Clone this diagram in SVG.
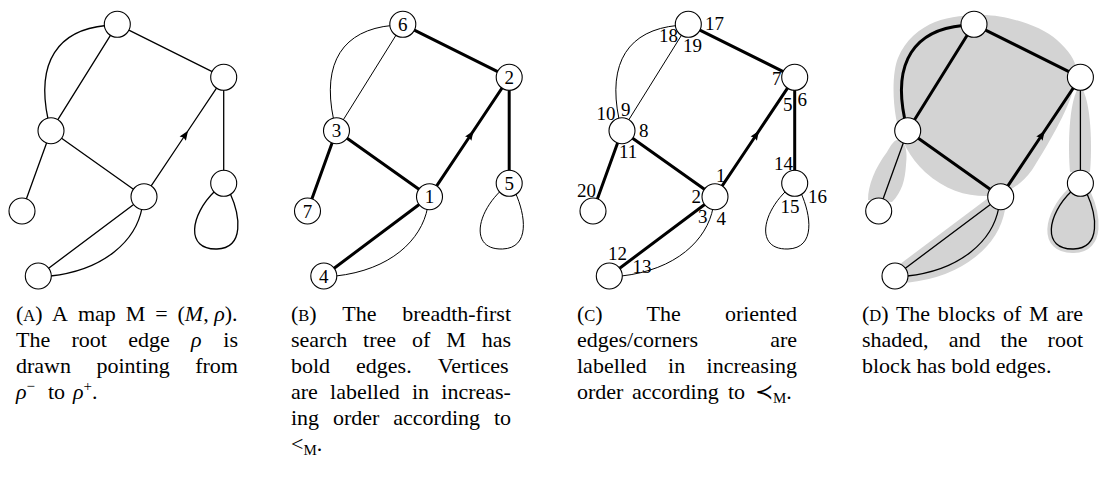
<svg xmlns="http://www.w3.org/2000/svg" width="1114" height="479" viewBox="0 0 1114 479">
<style>
.e{fill:none;stroke:#000;stroke-width:1.3;stroke-linecap:round}
.t{fill:none;stroke:#000;stroke-width:1;stroke-linecap:round}
.b{fill:none;stroke:#000;stroke-width:3;stroke-linecap:round}
.n circle{fill:#fff;stroke:#000;stroke-width:1.1}
.lbl{font-family:"Liberation Serif","DejaVu Serif",serif;font-size:19px;fill:#000}
.nl{font-family:"Liberation Serif","DejaVu Serif",serif;font-size:19px;fill:#000;text-anchor:middle}
.cap{font-family:"Liberation Serif","DejaVu Serif",serif;font-size:22px;fill:#000}
.sc{font-size:16.5px}
.it{font-style:italic}
.sh{fill:#d3d3d3;stroke:none}
</style>
<defs>
<marker id="arr" markerUnits="userSpaceOnUse" viewBox="-3 -5 12 10" markerWidth="12" markerHeight="10" refX="0" refY="0" orient="auto">
<path d="M-2,-3.8 L7.5,0 L-2,3.8 L-0.5,0 Z" fill="#000"/>
</marker>
</defs>
<rect width="1114" height="479" fill="#fff"/>

<!-- shading of panel D -->
<g id="shading">
<path class="sh" d="M983,15 C1005,15 1040,25 1057,40 C1068,50 1076,60 1076,70 C1075,85 1072,95 1069,102 C1062,120 1045,150 1032,170 C1020,186 1005,196 986,196 C965,196 945,190 925,172 C910,158 900,140 896,118 C892,95 893,70 898,58 C905,40 920,28 935,22 C950,16 968,15 983,15 Z"/>
<path class="sh" d="M897,140 C905,140 908,150 906,165 C905,180 902,192 892,202 L868,200 C868,185 875,168 887,152 C890,147 893,141 897,140 Z"/>
<path class="sh" d="M1080,85 C1092,100 1092,150 1090,172 L1070,172 C1068,150 1068,100 1080,85 Z"/>
<path d="M1071.7,191 C1046.7,215 1041.7,250 1073.7,249 C1101.7,248 1096.7,215 1086.7,193 Z" fill="#d3d3d3" stroke="#d3d3d3" stroke-width="8" stroke-linejoin="round"/>
<path d="M1000.7,196.7 L895,276 L908.3,276 C961.7,270 992.7,240 998.4,209.5 Z" fill="#d3d3d3" stroke="#d3d3d3" stroke-width="13" stroke-linejoin="round"/>
</g>

<g id="connectors">
<!-- panel A -->
<g id="edges-a">
<path class="e" d="M117.3,24.3 L223.7,77.3"/>
<path class="e" d="M117.3,24.3 L51,130.7"/>
<path class="e" d="M106,25.5 C58,30 36,62 48,119"/>
<path class="e" d="M51,130.7 L144,196.7"/>
<path class="e" d="M51,130.7 L22,211"/>
<path class="e" d="M144,196.7 L183.85,137 L223.7,77.3" marker-mid="url(#arr)"/>
<path class="e" d="M223.7,77.3 L223.7,183.3"/>
<path class="e" d="M144,196.7 L38.3,276"/>
<path class="e" d="M142,208 C136,240 105,270 50.5,276"/>
<path class="e" d="M215,191 C190,215 185,250 217,249 C245,248 240,215 230,193"/>
</g>
<!-- panel B -->
<g id="edges-b" transform="translate(285.5,0)">
<path class="b" d="M117.3,24.3 L223.7,77.3"/>
<path class="t" d="M117.3,24.3 L51,130.7"/>
<path class="t" d="M106,25.5 C58,30 36,62 48,119"/>
<path class="b" d="M51,130.7 L144,196.7"/>
<path class="b" d="M51,130.7 L22,211"/>
<path class="b" d="M144,196.7 L183.85,137 L223.7,77.3" marker-mid="url(#arr)"/>
<path class="b" d="M223.7,77.3 L223.7,183.3"/>
<path class="b" d="M144,196.7 L38.3,276"/>
<path class="t" d="M142,208 C136,240 105,270 50.5,276"/>
<path class="t" d="M215,191 C190,215 185,250 217,249 C245,248 240,215 230,193"/>
</g>
<!-- panel C -->
<g id="edges-c" transform="translate(571,0)">
<path class="b" d="M117.3,24.3 L223.7,77.3"/>
<path class="t" d="M117.3,24.3 L51,130.7"/>
<path class="t" d="M106,25.5 C58,30 36,62 48,119"/>
<path class="b" d="M51,130.7 L144,196.7"/>
<path class="b" d="M51,130.7 L22,211"/>
<path class="b" d="M144,196.7 L183.85,137 L223.7,77.3" marker-mid="url(#arr)"/>
<path class="b" d="M223.7,77.3 L223.7,183.3"/>
<path class="b" d="M144,196.7 L38.3,276"/>
<path class="t" d="M142,208 C136,240 105,270 50.5,276"/>
<path class="t" d="M215,191 C190,215 185,250 217,249 C245,248 240,215 230,193"/>
</g>
<!-- panel D -->
<g id="edges-d" transform="translate(856.7,0)">
<path class="b" d="M117.3,24.3 L223.7,77.3"/>
<path class="b" d="M117.3,24.3 L51,130.7"/>
<path class="b" d="M106,25.5 C58,30 36,62 48,119"/>
<path class="b" d="M51,130.7 L144,196.7"/>
<path class="e" d="M51,130.7 L22,211"/>
<path class="b" d="M144,196.7 L183.85,137 L223.7,77.3" marker-mid="url(#arr)"/>
<path class="e" d="M223.7,77.3 L223.7,183.3"/>
<path class="e" d="M144,196.7 L38.3,276"/>
<path class="e" d="M142,208 C136,240 105,270 50.5,276"/>
<path class="e" d="M215,191 C190,215 185,250 217,249 C245,248 240,215 230,193"/>
</g>
</g>

<!-- nodes panel A -->
<g id="a-T" class="n"><circle cx="117.3" cy="24.3" r="13"/></g>
<g id="a-R" class="n"><circle cx="223.7" cy="77.3" r="13"/></g>
<g id="a-L" class="n"><circle cx="51" cy="130.7" r="13"/></g>
<g id="a-O" class="n"><circle cx="144" cy="196.7" r="13"/></g>
<g id="a-P" class="n"><circle cx="223.7" cy="183.3" r="13"/></g>
<g id="a-F" class="n"><circle cx="22" cy="211" r="13"/></g>
<g id="a-B" class="n"><circle cx="38.3" cy="276" r="13"/></g>

<!-- nodes panel B -->
<g id="b-6" class="n"><circle cx="402.8" cy="24.3" r="13"/><text class="nl" x="402.8" y="30.8">6</text></g>
<g id="b-2" class="n"><circle cx="509.2" cy="77.3" r="13"/><text class="nl" x="509.2" y="83.8">2</text></g>
<g id="b-3" class="n"><circle cx="336.5" cy="130.7" r="13"/><text class="nl" x="336.5" y="137.2">3</text></g>
<g id="b-1" class="n"><circle cx="429.5" cy="196.7" r="13"/><text class="nl" x="429.5" y="203.2">1</text></g>
<g id="b-5" class="n"><circle cx="509.2" cy="183.3" r="13"/><text class="nl" x="509.2" y="189.8">5</text></g>
<g id="b-7" class="n"><circle cx="307.5" cy="211" r="13"/><text class="nl" x="307.5" y="217.5">7</text></g>
<g id="b-4" class="n"><circle cx="323.8" cy="276" r="13"/><text class="nl" x="323.8" y="282.5">4</text></g>

<!-- nodes panel C -->
<g id="c-T" class="n"><circle cx="688.3" cy="24.3" r="13"/></g>
<g id="c-R" class="n"><circle cx="794.7" cy="77.3" r="13"/></g>
<g id="c-L" class="n"><circle cx="622" cy="130.7" r="13"/></g>
<g id="c-O" class="n"><circle cx="715" cy="196.7" r="13"/></g>
<g id="c-P" class="n"><circle cx="794.7" cy="183.3" r="13"/></g>
<g id="c-F" class="n"><circle cx="593" cy="211" r="13"/></g>
<g id="c-B" class="n"><circle cx="609.3" cy="276" r="13"/></g>

<!-- corner labels panel C -->
<g id="c-labels" class="lbl">
<text x="705" y="29.5">17</text>
<text x="659" y="41.5">18</text>
<text x="683" y="51.5">19</text>
<text x="772" y="85">7</text>
<text x="783" y="110.5">5</text>
<text x="797.5" y="106">6</text>
<text x="596.5" y="120">10</text>
<text x="621" y="115.5">9</text>
<text x="639" y="137">8</text>
<text x="619" y="158">11</text>
<text x="577" y="196.5">20</text>
<text x="716" y="181.5">1</text>
<text x="691.5" y="203">2</text>
<text x="698" y="223">3</text>
<text x="716.5" y="225">4</text>
<text x="608" y="260">12</text>
<text x="632.5" y="272.5">13</text>
<text x="774" y="170">14</text>
<text x="780.5" y="212.5">15</text>
<text x="808" y="203">16</text>
</g>

<!-- nodes panel D -->
<g id="d-T" class="n"><circle cx="974" cy="24.3" r="13"/></g>
<g id="d-R" class="n"><circle cx="1080.4" cy="77.3" r="13"/></g>
<g id="d-L" class="n"><circle cx="907.7" cy="130.7" r="13"/></g>
<g id="d-O" class="n"><circle cx="1000.7" cy="196.7" r="13"/></g>
<g id="d-P" class="n"><circle cx="1080.4" cy="183.3" r="13"/></g>
<g id="d-F" class="n"><circle cx="878.7" cy="211" r="13"/></g>
<g id="d-B" class="n"><circle cx="895" cy="276" r="13"/></g>

<!-- captions -->
<g id="caption-a" class="cap">
<text y="321"><tspan x="16">(</tspan><tspan class="sc">A</tspan><tspan>)</tspan><tspan x="52.1">A</tspan><tspan x="77.9">map</tspan><tspan x="125.7">M</tspan><tspan x="155.2">=</tspan><tspan x="177.5">(</tspan><tspan class="it">M</tspan><tspan>, </tspan><tspan class="it">ρ</tspan><tspan>).</tspan></text>
<text y="347"><tspan x="16">The</tspan><tspan x="71.5">root</tspan><tspan x="128.2">edge</tspan><tspan x="191" class="it">ρ</tspan><tspan x="223.3">is</tspan></text>
<text y="373"><tspan x="16">drawn</tspan><tspan x="96.5">pointing</tspan><tspan x="195.2">from</tspan></text>
<text y="399"><tspan x="16" class="it">ρ</tspan><tspan font-size="15" dy="-8">−</tspan><tspan x="48" dy="8">to</tspan><tspan x="73" class="it">ρ</tspan><tspan font-size="15" dy="-8">+</tspan><tspan dy="8">.</tspan></text>
</g>
<g id="caption-b" class="cap">
<text y="321"><tspan x="291">(</tspan><tspan class="sc">B</tspan><tspan>)</tspan><tspan x="342.2">The</tspan><tspan x="402.3">breadth-first</tspan></text>
<text y="347"><tspan x="291">search</tspan><tspan x="363.1">tree</tspan><tspan x="412">of</tspan><tspan x="446.2">M</tspan><tspan x="481.7">has</tspan></text>
<text y="373"><tspan x="291">bold</tspan><tspan x="356.1">edges.</tspan><tspan x="437.7">Vertices</tspan></text>
<text y="399"><tspan x="291">are</tspan><tspan x="330.1">labelled</tspan><tspan x="412">in</tspan><tspan x="441.3">increas-</tspan></text>
<text y="425"><tspan x="291">ing</tspan><tspan x="333">order</tspan><tspan x="393.3">according</tspan><tspan x="493.9">to</tspan></text>
<text y="451"><tspan x="291">&lt;</tspan><tspan font-size="15" dy="4">M</tspan><tspan dy="-4">.</tspan></text>
</g>
<g id="caption-c" class="cap">
<text y="321"><tspan x="577">(</tspan><tspan class="sc">C</tspan><tspan>)</tspan><tspan x="646.5">The</tspan><tspan x="724.9">oriented</tspan></text>
<text y="347"><tspan x="577">edges/corners</tspan><tspan x="797" text-anchor="end">are</tspan></text>
<text y="373"><tspan x="577">labelled</tspan><tspan x="668.1">in</tspan><tspan x="706.6">increasing</tspan></text>
<text y="399"><tspan x="577">order</tspan><tspan x="632">according</tspan><tspan x="728">to</tspan><tspan x="755">≺</tspan><tspan font-size="15" dy="4">M</tspan><tspan dy="-4">.</tspan></text>
</g>
<g id="caption-d" class="cap">
<text y="321"><tspan x="862">(</tspan><tspan class="sc">D</tspan><tspan>)</tspan><tspan x="895.9">The</tspan><tspan x="937.8">blocks</tspan><tspan x="1002.9">of</tspan><tspan x="1028.9">M</tspan><tspan x="1056.2">are</tspan></text>
<text y="347"><tspan x="862">shaded,</tspan><tspan x="948.7">and</tspan><tspan x="1000.6">the</tspan><tspan x="1047.6">root</tspan></text>
<text y="373" x="862">block has bold edges.</text>
</g>
</svg>
